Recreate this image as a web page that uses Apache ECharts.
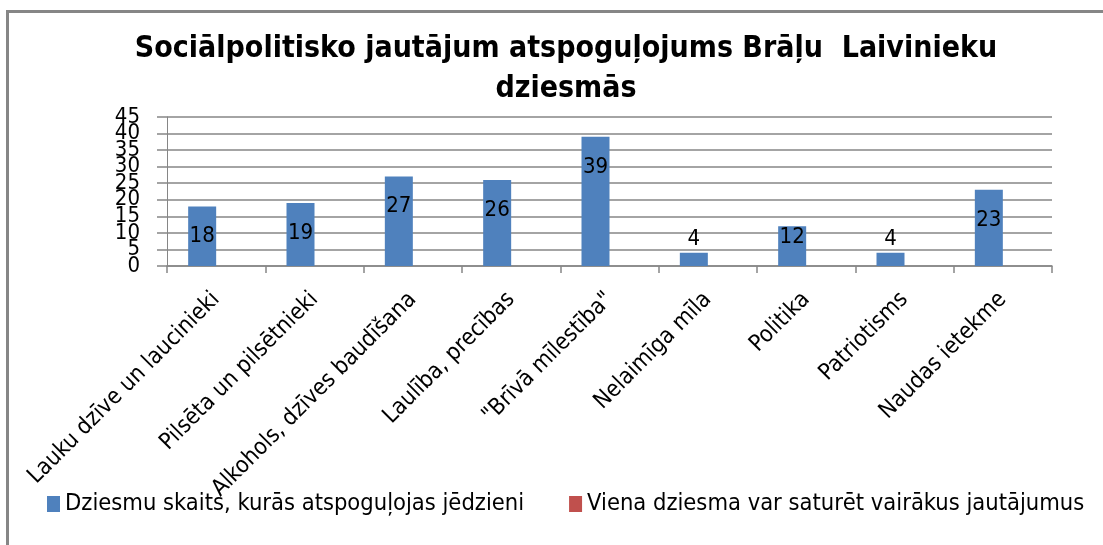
<!DOCTYPE html>
<html>
<head>
<meta charset="utf-8">
<script src="https://cdn.jsdelivr.net/npm/echarts@6/dist/echarts.min.js"></script>
<style>
  html, body { margin: 0; padding: 0; background: #fff; }
  #myChart { width: 1103px; height: 545px; }
</style>
</head>
<body>
<div id="myChart"></div>
<script>
  // kategorijas (x ass)
  var categories = ['Lauku dzīve un laucinieki', 'Pilsēta un pilsētnieki', 'Alkohols, dzīves baudīšana',
    'Laulība, precības', '"Brīvā mīlestība"', 'Nelaimīga mīla', 'Politika', 'Patriotisms', 'Naudas ietekme']
  var songCounts = [18, 19, 27, 26, 39, 4, 12, 4, 23]
  var multiTopic = [null, null, null, null, null, null, null, null, null]
  var seriesNames = ['Dziesmu skaits, kurās atspoguļojas jēdzieni', 'Viena dziesma var saturēt vairākus jautājumus']
  var yTicks = [0, 5, 10, 15, 20, 25, 30, 35, 40, 45]

  var font = '"Liberation Sans Narrow", "DejaVu Sans Condensed", "Noto Sans", sans-serif'

  // etiķetes novietojums atkarībā no stabiņa augstuma
  function labelFor(v) {
    if (v < 10) return { position: 'top', distance: 2 }
    if (v < 15) return { position: 'insideTop', distance: 0 }
    return { position: 'insideTop', distance: 19 }
  }

  // y ass: skaitļi pārklājas, tāpēc pāra un nepāra iedaļas uz divām asīm
  function yAxisFor(odd, main) {
    return {
      type: 'value',
      position: 'left',
      min: yTicks[0],
      max: yTicks[yTicks.length - 1],
      interval: 5,
      axisLine: { show: main, lineStyle: { color: '#868686', width: 1 } },
      axisTick: { show: main, length: 10, lineStyle: { color: '#868686', width: 1.5 } },
      splitLine: { show: main, lineStyle: { color: '#868686', width: 1.5 } },
      axisLabel: {
        margin: 27,
        fontFamily: font,
        fontSize: 22,
        color: '#000',
        showMinLabel: true,
        showMaxLabel: true,
        formatter: function (v) {
          return ((v / 5) % 2 === 1) === odd ? String(v) : ''
        }
      }
    }
  }

  var myChart = echarts.init(document.getElementById('myChart'))
  myChart.setOption({
    animation: false,
    title: {
      text: 'Sociālpolitisko jautājum atspoguļojums Brāļu  Laivinieku\ndziesmās',
      left: 561,
      top: 24,
      textAlign: 'center',
      textStyle: {
        fontFamily: font,
        fontWeight: 'bold',
        fontSize: 30,
        lineHeight: 40,
        color: '#000'
      }
    },
    graphic: [{
      type: 'polyline',
      shape: { points: [[7.5, 600], [7.5, 11.5], [1200, 11.5]] },
      style: { fill: 'none', stroke: '#868686', lineWidth: 3 },
      silent: true
    }],
    legend: {
      bottom: 24,
      left: 42,
      width: 1100,
      orient: 'horizontal',
      itemWidth: 13,
      itemHeight: 16,
      itemGap: 45,
      icon: 'rect',
      textStyle: { fontFamily: font, fontSize: 23.5, color: '#000' },
      data: seriesNames
    },
    grid: {
      left: 167,
      right: 51,
      top: 117,
      bottom: 279,
      containLabel: false
    },
    xAxis: {
      type: 'category',
      data: categories,
      axisLine: { lineStyle: { color: '#868686', width: 1.5 } },
      axisTick: { show: true, length: 7, interval: 0, lineStyle: { color: '#868686', width: 1.5 } },
      axisLabel: {
        rotate: 45,
        interval: 0,
        margin: 30,
        fontFamily: font,
        fontSize: 23,
        color: '#000'
      }
    },
    yAxis: [yAxisFor(false, true), yAxisFor(true, false)],
    series: [
      {
        name: seriesNames[0],
        type: 'bar',
        barWidth: 28,
        barGap: '0%',
        itemStyle: { color: '#4f81bd' },
        label: {
          show: true,
          fontFamily: font,
          fontSize: 22,
          color: '#000'
        },
        data: songCounts.map(function (v) {
          return { value: v, label: labelFor(v) }
        })
      },
      {
        name: seriesNames[1],
        type: 'bar',
        barWidth: 28,
        itemStyle: { color: '#c0504d' },
        data: multiTopic
      }
    ]
  })
</script>
</body>
</html>
